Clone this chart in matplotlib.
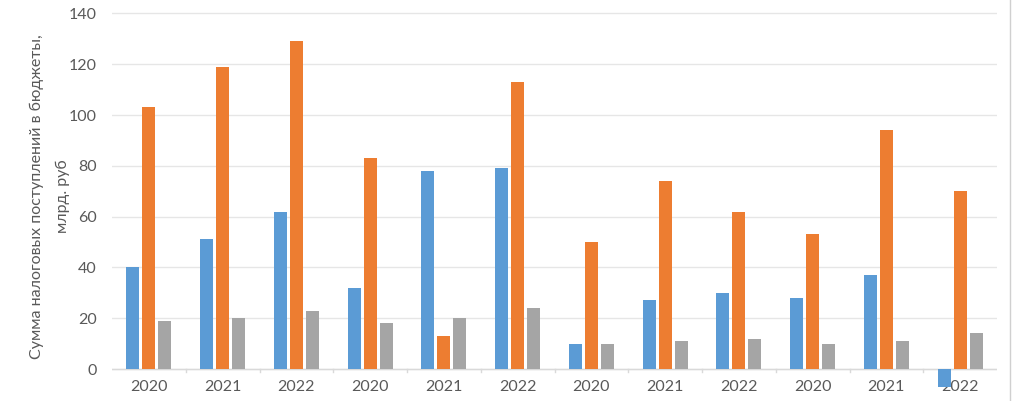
import matplotlib.pyplot as plt
from matplotlib.lines import Line2D
import numpy as np

years = ["2020", "2021", "2022"] * 4
series_blue = [40, 51, 62, 32, 78, 79, 10, 27, 30, 28, 37, -7]
series_orange = [103, 119, 129, 83, 13, 113, 50, 74, 62, 53, 94, 70]
series_gray = [19, 20, 23, 18, 20, 24, 10, 11, 12, 10, 11, 14]

plt.rcParams['font.family'] = ['Lato', 'DejaVu Sans']
text_color = "#595959"

fig = plt.figure(figsize=(10.16, 4.01), dpi=100)
ax = fig.add_axes([112 / 1016, 0, (997 - 112) / 1016, 1])

x = np.arange(len(years))
w = 0.177
step = 0.217
ax.bar(x - step, series_blue, width=w, color="#5B9BD5", zorder=3)
ax.bar(x, series_orange, width=w, color="#ED7D31", zorder=3)
ax.bar(x + step, series_gray, width=w, color="#A5A5A5", zorder=3)

ax.set_xlim(-0.5, len(years) - 0.5)
ax.set_ylim(-12.6, 145.3)
ax.set_yticks(range(0, 141, 20))
ax.grid(axis="y", color="#E6E6E6", linewidth=1, zorder=0)
for s in ax.spines.values():
    s.set_visible(False)
ax.axhline(0, color="#D9D9D9", linewidth=1, zorder=2)
ax.tick_params(axis="y", length=0, labelsize=11.5, colors=text_color, pad=11)
ax.tick_params(axis="x", length=0, labelsize=11.5, colors=text_color, pad=-15)
ax.set_xticks(x)
ax.set_xticklabels(years)

# small category separators on the zero line
for b in np.arange(0.5, len(years) - 0.5, 1):
    ax.plot([b, b], [0, -1.2], color="#D9D9D9", linewidth=1, zorder=2)

fig.text(37 / 1016, 0.51, "Сумма налоговых поступлений в бюджеты,",
         rotation=90, ha="center", va="center", fontsize=11.5, color=text_color)
fig.text(63 / 1016, 0.51, "млрд. руб",
         rotation=90, ha="center", va="center", fontsize=11.5, color=text_color)

# right border of the original chart
fig.add_artist(Line2D([1010 / 1016, 1010 / 1016], [0, 1], color="#D0D0D0", linewidth=1))

fig.savefig("out.png", dpi=100)
